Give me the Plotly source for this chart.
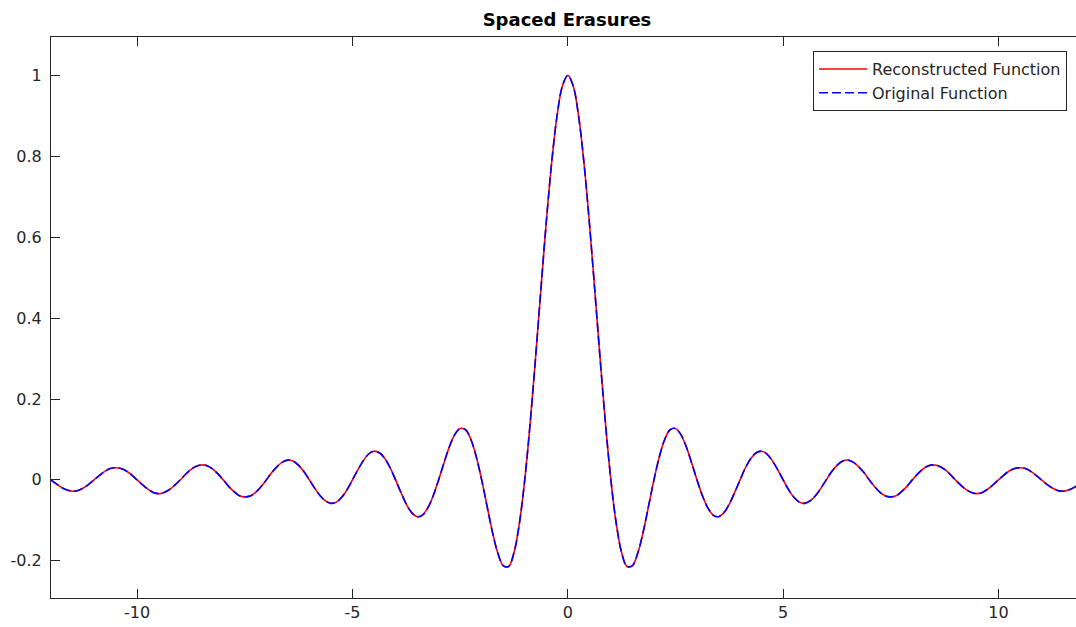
import plotly.graph_objects as go

# Sample positions (x), one row per unit interval
x_vals = [
    -12.0, -11.875, -11.75, -11.625, -11.5, -11.375, -11.25, -11.125,
    -11.0, -10.875, -10.75, -10.625, -10.5, -10.375, -10.25, -10.125,
    -10.0, -9.875, -9.75, -9.625, -9.5, -9.375, -9.25, -9.125,
    -9.0, -8.875, -8.75, -8.625, -8.5, -8.375, -8.25, -8.125,
    -8.0, -7.875, -7.75, -7.625, -7.5, -7.375, -7.25, -7.125,
    -7.0, -6.875, -6.75, -6.625, -6.5, -6.375, -6.25, -6.125,
    -6.0, -5.875, -5.75, -5.625, -5.5, -5.375, -5.25, -5.125,
    -5.0, -4.875, -4.75, -4.625, -4.5, -4.375, -4.25, -4.125,
    -4.0, -3.875, -3.75, -3.625, -3.5, -3.375, -3.25, -3.125,
    -3.0, -2.875, -2.75, -2.625, -2.5, -2.375, -2.25, -2.125,
    -2.0, -1.875, -1.75, -1.625, -1.5, -1.375, -1.25, -1.125,
    -1.0, -0.875, -0.75, -0.625, -0.5, -0.375, -0.25, -0.125,
    0.0, 0.125, 0.25, 0.375, 0.5, 0.625, 0.75, 0.875,
    1.0, 1.125, 1.25, 1.375, 1.5, 1.625, 1.75, 1.875,
    2.0, 2.125, 2.25, 2.375, 2.5, 2.625, 2.75, 2.875,
    3.0, 3.125, 3.25, 3.375, 3.5, 3.625, 3.75, 3.875,
    4.0, 4.125, 4.25, 4.375, 4.5, 4.625, 4.75, 4.875,
    5.0, 5.125, 5.25, 5.375, 5.5, 5.625, 5.75, 5.875,
    6.0, 6.125, 6.25, 6.375, 6.5, 6.625, 6.75, 6.875,
    7.0, 7.125, 7.25, 7.375, 7.5, 7.625, 7.75, 7.875,
    8.0, 8.125, 8.25, 8.375, 8.5, 8.625, 8.75, 8.875,
    9.0, 9.125, 9.25, 9.375, 9.5, 9.625, 9.75, 9.875,
    10.0, 10.125, 10.25, 10.375, 10.5, 10.625, 10.75, 10.875,
    11.0, 11.125, 11.25, 11.375, 11.5, 11.625, 11.75, 11.875,
    12.0,
]

# Original function values at those positions
original_vals = [
    0.0, -0.010, -0.019, -0.025, -0.028, -0.026, -0.020, -0.011,
    0.0, 0.011, 0.021, 0.028, 0.030, 0.028, 0.022, 0.012,
    0.0, -0.012, -0.023, -0.031, -0.034, -0.031, -0.024, -0.013,
    0.0, 0.014, 0.026, 0.034, 0.037, 0.035, 0.027, 0.015,
    0.0, -0.016, -0.029, -0.039, -0.042, -0.040, -0.031, -0.017,
    0.0, 0.018, 0.033, 0.044, 0.049, 0.046, 0.036, 0.020,
    0.0, -0.021, -0.039, -0.052, -0.058, -0.055, -0.043, -0.024,
    0.0, 0.025, 0.047, 0.064, 0.071, 0.067, 0.053, 0.030,
    0.0, -0.031, -0.060, -0.081, -0.091, -0.087, -0.069, -0.039,
    0.0, 0.042, 0.082, 0.112, 0.127, 0.124, 0.100, 0.057,
    0.0, -0.065, -0.129, -0.181, -0.212, -0.214, -0.180, -0.108,
    0.0, 0.139, 0.300, 0.471, 0.637, 0.784, 0.900, 0.974,
    1.0, 0.974, 0.900, 0.784, 0.637, 0.471, 0.300, 0.139,
    0.0, -0.108, -0.180, -0.214, -0.212, -0.181, -0.129, -0.065,
    0.0, 0.057, 0.100, 0.124, 0.127, 0.112, 0.082, 0.042,
    0.0, -0.039, -0.069, -0.087, -0.091, -0.081, -0.060, -0.031,
    0.0, 0.030, 0.053, 0.067, 0.071, 0.064, 0.047, 0.025,
    0.0, -0.024, -0.043, -0.055, -0.058, -0.052, -0.039, -0.021,
    0.0, 0.020, 0.036, 0.046, 0.049, 0.044, 0.033, 0.018,
    0.0, -0.017, -0.031, -0.040, -0.042, -0.039, -0.029, -0.016,
    0.0, 0.015, 0.027, 0.035, 0.037, 0.034, 0.026, 0.014,
    0.0, -0.013, -0.024, -0.031, -0.034, -0.031, -0.023, -0.012,
    0.0, 0.012, 0.022, 0.028, 0.030, 0.028, 0.021, 0.011,
    0.0, -0.011, -0.020, -0.026, -0.028, -0.025, -0.019, -0.010,
    0.0,
]

# The reconstruction coincides with the original at this resolution
reconstructed_vals = list(original_vals)

x_ticks = [-10, -5, 0, 5, 10]
x_tick_labels = ["-10", "-5", "0", "5", "10"]
y_ticks = [-0.2, 0.0, 0.2, 0.4, 0.6, 0.8, 1.0]
y_tick_labels = ["-0.2", "0", "0.2", "0.4", "0.6", "0.8", "1"]

AXIS_COLOR = "#262626"
FONT = "DejaVu Sans"

fig = go.Figure()
fig.add_trace(go.Scatter(
    x=x_vals, y=reconstructed_vals, mode="lines",
    name="Reconstructed Function",
    line=dict(color="#ff0000", width=1.6, shape="spline", smoothing=1),
))
fig.add_trace(go.Scatter(
    x=x_vals, y=original_vals, mode="lines",
    name="Original Function",
    line=dict(color="#0000ff", width=1.6, shape="spline", smoothing=1,
              dash="9px,4px"),
))

fig.update_layout(
    width=1076, height=627,
    margin=dict(l=51, r=0, t=37, b=29),
    paper_bgcolor="white", plot_bgcolor="white",
    font=dict(family=FONT, size=16, color=AXIS_COLOR),
    title=dict(text="<b>Spaced Erasures</b>", x=567 / 1076, xanchor="center",
               y=1 - 20 / 627, yanchor="middle",
               font=dict(family=FONT, size=18, color="#000000")),
    showlegend=True,
    legend=dict(
        x=0.9912, xanchor="right", y=0.9750, yanchor="top",
        bgcolor="white", bordercolor=AXIS_COLOR, borderwidth=1,
        font=dict(family=FONT, size=16, color=AXIS_COLOR),
        tracegroupgap=0, itemwidth=48,
    ),
    xaxis=dict(
        range=[-12, 11.8], tickvals=x_ticks, ticktext=x_tick_labels,
        showgrid=False, zeroline=False,
        showline=True, linecolor=AXIS_COLOR, linewidth=1, mirror="ticks",
        ticks="inside", ticklen=9, tickcolor=AXIS_COLOR, tickwidth=1,
        tickfont=dict(family=FONT, size=16, color=AXIS_COLOR),
    ),
    yaxis=dict(
        range=[-0.292, 1.095], tickvals=y_ticks, ticktext=y_tick_labels,
        showgrid=False, zeroline=False,
        showline=True, linecolor=AXIS_COLOR, linewidth=1, mirror=False,
        ticks="inside", ticklen=9, tickcolor=AXIS_COLOR, tickwidth=1,
        tickfont=dict(family=FONT, size=16, color=AXIS_COLOR),
        ticklabelstandoff=5,
    ),
)

fig.write_html("out.html")
